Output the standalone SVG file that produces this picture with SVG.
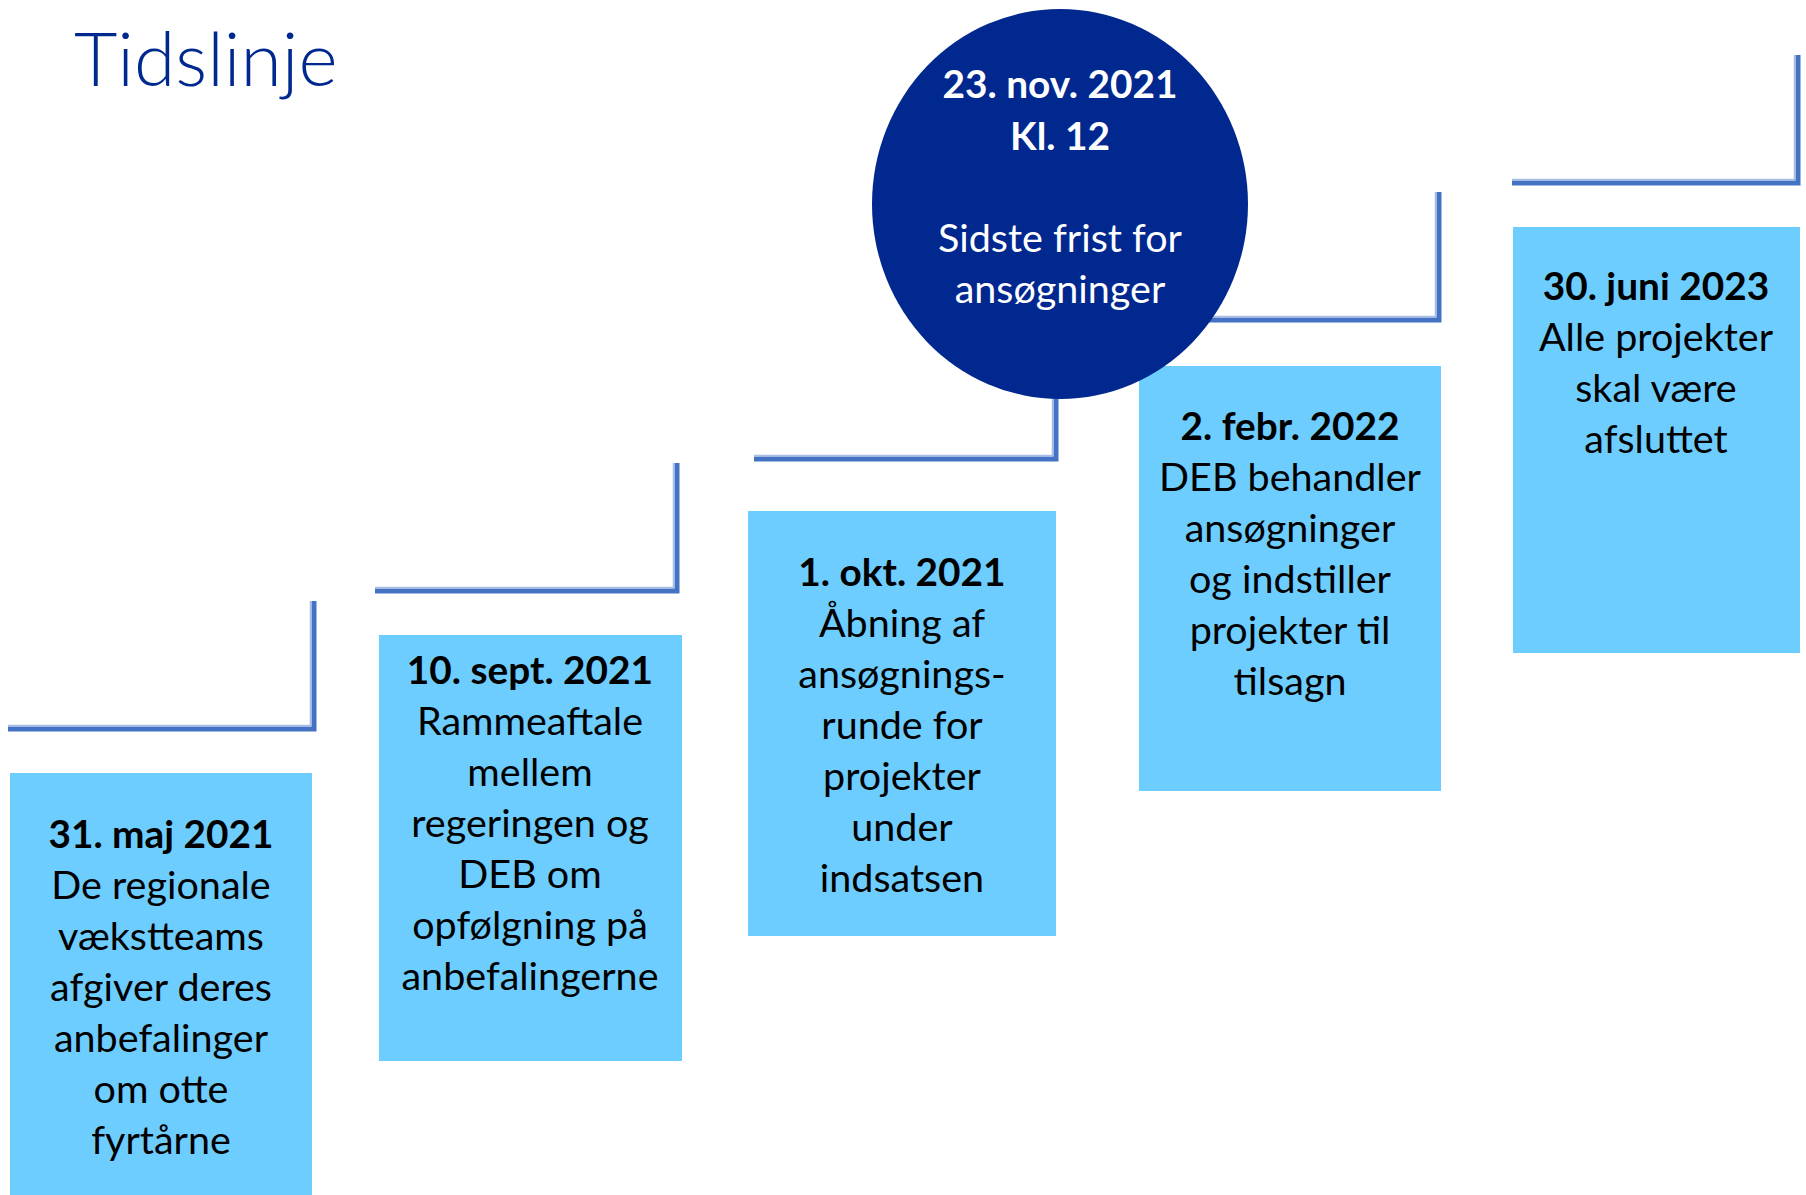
<svg xmlns="http://www.w3.org/2000/svg" width="1806" height="1195" viewBox="0 0 1806 1195">
<style>
.box{fill:#6DCDFF}
.t{font-family:Lato,"Liberation Sans",sans-serif;font-size:39.5px;fill:#000;text-anchor:middle}
.b{font-weight:700;font-size:38.8px}
.w{fill:#fff}
.ln{fill:none;stroke:#4472C4;stroke-width:5;stroke-linejoin:miter}
.hl{fill:none;stroke:#A8BDE6;stroke-width:1.5}
</style>
<rect width="1806" height="1195" fill="#fff"/>
<text x="74" y="86" font-family="Lato,'Liberation Sans',sans-serif" font-weight="300" font-size="75" fill="#00298F">Tidslinje</text>
<g id="connectors">
<path class="ln" d="M8 729 H314 V601"/>
<path class="hl" d="M8 725.5 H310.5 V601"/>
<path class="ln" d="M375 591 H677 V463"/>
<path class="hl" d="M375 587.5 H673.5 V463"/>
<path class="ln" d="M754 459 H1056 V332"/>
<path class="hl" d="M754 455.5 H1052.5 V332"/>
<path class="ln" d="M1136 320 H1439 V192"/>
<path class="hl" d="M1136 316.5 H1435.5 V192"/>
<path class="ln" d="M1512 183 H1798 V55"/>
<path class="hl" d="M1512 179.5 H1794.5 V55"/>
</g>
<g id="n1">
<rect class="box" x="10" y="773" width="302" height="422"/>
<text class="t"><tspan class="b" x="161" y="848">31. maj 2021</tspan><tspan x="161" y="899">De regionale</tspan><tspan x="161" y="950">vækstteams</tspan><tspan x="161" y="1001">afgiver deres</tspan><tspan x="161" y="1052">anbefalinger</tspan><tspan x="161" y="1103">om otte</tspan><tspan x="161" y="1154">fyrtårne</tspan></text>
</g>
<g id="n2">
<rect class="box" x="379" y="635" width="303" height="426"/>
<text class="t"><tspan class="b" x="530" y="684">10. sept. 2021</tspan><tspan x="530" y="735">Rammeaftale</tspan><tspan x="530" y="786">mellem</tspan><tspan x="530" y="837">regeringen og</tspan><tspan x="530" y="888">DEB om</tspan><tspan x="530" y="939">opfølgning på</tspan><tspan x="530" y="990">anbefalingerne</tspan></text>
</g>
<g id="n3">
<rect class="box" x="748" y="511" width="308" height="425"/>
<text class="t"><tspan class="b" x="902" y="586">1. okt. 2021</tspan><tspan x="902" y="637">Åbning af</tspan><tspan x="902" y="688">ansøgnings-</tspan><tspan x="902" y="739">runde for</tspan><tspan x="902" y="790">projekter</tspan><tspan x="902" y="841">under</tspan><tspan x="902" y="892">indsatsen</tspan></text>
</g>
<g id="n4">
<rect class="box" x="1139" y="366" width="302" height="425"/>
<text class="t"><tspan class="b" x="1290" y="440">2. febr. 2022</tspan><tspan x="1290" y="491">DEB behandler</tspan><tspan x="1290" y="542">ansøgninger</tspan><tspan x="1290" y="593">og indstiller</tspan><tspan x="1290" y="644">projekter til</tspan><tspan x="1290" y="695">tilsagn</tspan></text>
</g>
<g id="n5">
<rect class="box" x="1513" y="227" width="287" height="426"/>
<text class="t"><tspan class="b" x="1656" y="300">30. juni 2023</tspan><tspan x="1656" y="351">Alle projekter</tspan><tspan x="1656" y="402">skal være</tspan><tspan x="1656" y="453">afsluttet</tspan></text>
</g>
<g id="n6">
<ellipse cx="1060" cy="204" rx="188" ry="195" fill="#00288F"/>
<text class="t w"><tspan class="b" x="1060" y="98">23. nov. 2021</tspan><tspan class="b" x="1060" y="150">Kl. 12</tspan><tspan x="1060" y="252">Sidste frist for</tspan><tspan x="1060" y="303">ansøgninger</tspan></text>
</g>
</svg>
